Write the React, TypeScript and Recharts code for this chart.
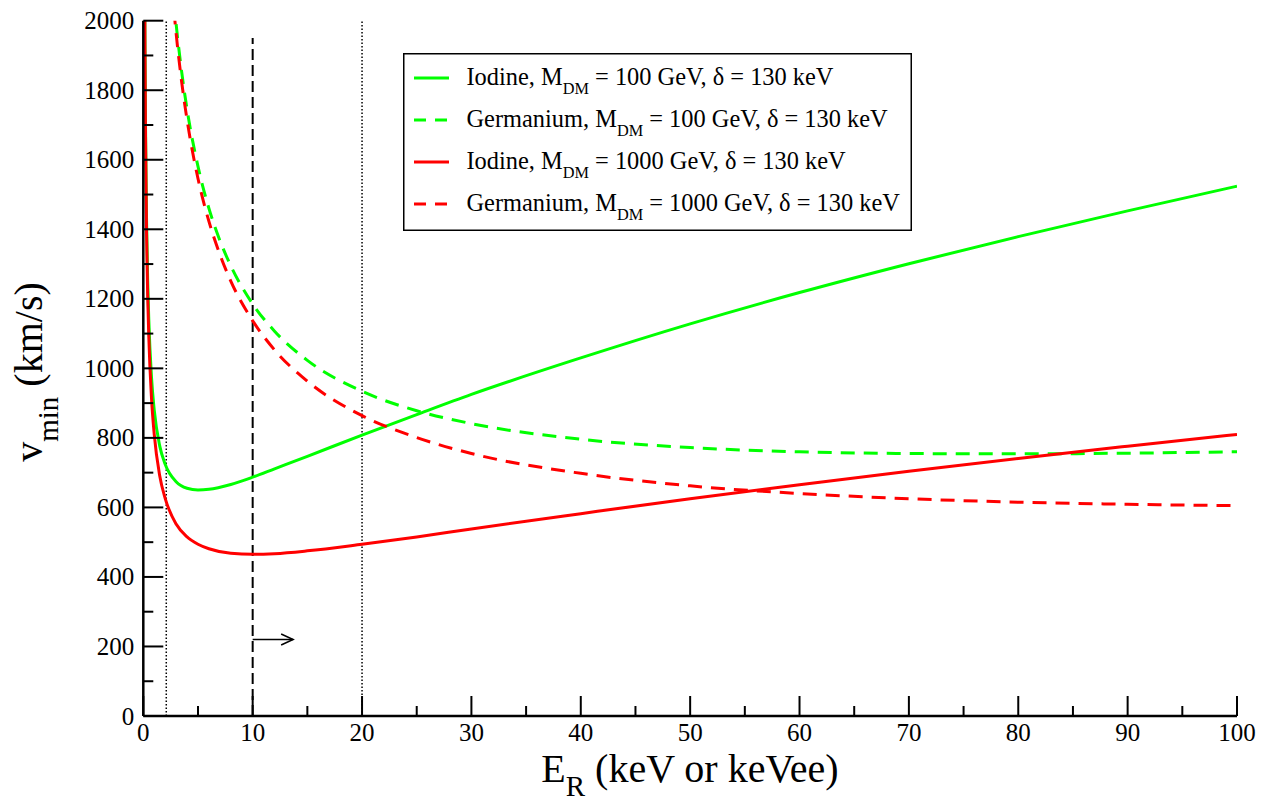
import React from 'react';
import { LineChart, Line, XAxis, YAxis, ReferenceLine } from 'recharts';

const FONT = 'Liberation Serif';

// Energies (keVee for iodine, keV for germanium) and v_min values (km/s)
const iodineEnergies = [0.1, 0.15, 0.2, 0.3, 0.4, 0.5, 0.75, 1, 1.5, 2, 3, 4, 5, 6, 8, 10, 12, 15, 20, 25, 30, 40, 50, 60, 70, 80, 90, 100];
const iodine100 = [2373, 1955, 1710, 1423, 1254, 1142, 974, 880, 777, 724, 674, 655, 650, 652, 666, 687, 711, 747, 808, 867, 925, 1030, 1128, 1218, 1301, 1379, 1453, 1524];
const iodine1000 = [2351, 1929, 1679, 1384, 1210, 1093, 914, 810, 691, 626, 552, 515, 494, 481, 468, 465, 467, 475, 494, 515, 538, 582, 625, 665, 704, 741, 776, 810];

const germaniumEnergies = [2.8, 3, 3.5, 4, 5, 6, 7, 8, 10, 12, 15, 20, 25, 30, 40, 50, 60, 70, 80, 90, 100];
const germanium100 = [2056, 1991, 1855, 1745, 1581, 1460, 1368, 1295, 1185, 1107, 1023, 934, 878, 841, 796, 772, 760, 755, 754, 756, 760];
const germanium1000 = [2030, 1964, 1826, 1715, 1546, 1423, 1328, 1251, 1137, 1053, 963, 864, 801, 755, 698, 662, 640, 625, 615, 609, 605];

const xTicks = [0, 5, 10, 15, 20, 25, 30, 35, 40, 45, 50, 55, 60, 65, 70, 75, 80, 85, 90, 95, 100];
const yTicks = [0, 100, 200, 300, 400, 500, 600, 700, 800, 900, 1000, 1100, 1200, 1300, 1400, 1500, 1600, 1700, 1800, 1900, 2000];

const thresholdLines = [2.1, 20];
const windowStart = 10;
const windowTop = 1950;
const arrowLevel = 220;
const arrowEnd = 13.7;

const toPoints = (es: number[], vs: number[]) => es.map((e, i) => ({ e, v: vs[i] }));

const series = [
  { target: 'Iodine', mass: '100', color: '#00ff00', dashed: false, data: toPoints(iodineEnergies, iodine100) },
  { target: 'Germanium', mass: '100', color: '#00ff00', dashed: true, data: toPoints(germaniumEnergies, germanium100) },
  { target: 'Iodine', mass: '1000', color: '#ff0000', dashed: false, data: toPoints(iodineEnergies, iodine1000) },
  { target: 'Germanium', mass: '1000', color: '#ff0000', dashed: true, data: toPoints(germaniumEnergies, germanium1000) },
];

const CURVE_DASH = '14 9';

const makeXTick = (side: 'bottom' | 'top') => (props: any) => {
  const { x, y, payload } = props;
  const major = payload.value % 10 === 0;
  const len = major ? 20 : 10;
  const dir = side === 'bottom' ? -1 : 1;
  return (
    <g>
      <line x1={x} y1={y} x2={x} y2={y + dir * len} stroke="#000" strokeWidth={2} />
      {side === 'bottom' && major && (
        <text x={x} y={y + 25} textAnchor="middle" fontFamily={FONT} fontSize={25}>
          {payload.value}
        </text>
      )}
    </g>
  );
};

const makeYTick = (side: 'left' | 'right') => (props: any) => {
  const { x, y, payload } = props;
  const major = payload.value % 200 === 0;
  const len = major ? 20 : 10;
  const dir = side === 'left' ? 1 : -1;
  return (
    <g>
      <line x1={x} y1={y} x2={x + dir * len} y2={y} stroke="#000" strokeWidth={2} />
      {side === 'left' && major && (
        <text x={x - 9} y={y + 8.5} textAnchor="end" fontFamily={FONT} fontSize={25}>
          {payload.value}
        </text>
      )}
    </g>
  );
};

const ArrowShape = (props: any) => {
  const { x1, y1, x2, y2 } = props;
  return (
    <g>
      <line x1={x1} y1={y1} x2={x2} y2={y2} stroke="#000" strokeWidth={1.5} />
      <polyline
        points={`${x2 - 12},${y2 - 5.5} ${x2},${y2} ${x2 - 12},${y2 + 5.5}`}
        fill="none"
        stroke="#000"
        strokeWidth={1.5}
      />
    </g>
  );
};

// Legend box drawn inside the chart SVG
const LEGEND_X = 403;
const LEGEND_Y = 53;

export default function App() {
  return (
    <div style={{ position: 'absolute', left: 0, top: 0, background: '#fff' }}>
      <LineChart width={1262} height={801} margin={{ top: 20.7, right: 25, bottom: 45, left: 73.3 }}>
        <XAxis
          xAxisId="b"
          dataKey="e"
          type="number"
          domain={[0, 100]}
          ticks={xTicks}
          interval={0}
          allowDataOverflow
          height={40}
          tickSize={0}
          tickMargin={0}
          tickLine={false}
          axisLine={{ stroke: '#000', strokeWidth: 2.5 }}
          tick={makeXTick('bottom')}
        />
        <XAxis
          xAxisId="t"
          orientation="top"
          dataKey="e"
          type="number"
          domain={[0, 100]}
          ticks={xTicks}
          interval={0}
          allowDataOverflow
          height={0}
          tickSize={0}
          tickMargin={0}
          tickLine={false}
          axisLine={{ stroke: '#000', strokeWidth: 2.5 }}
          tick={makeXTick('top')}
        />
        <YAxis
          yAxisId="l"
          type="number"
          domain={[0, 2000]}
          ticks={yTicks}
          interval={0}
          allowDataOverflow
          width={70}
          tickSize={0}
          tickMargin={0}
          tickLine={false}
          axisLine={{ stroke: '#000', strokeWidth: 2.5 }}
          tick={makeYTick('left')}
        />
        <YAxis
          yAxisId="r"
          orientation="right"
          type="number"
          domain={[0, 2000]}
          ticks={yTicks}
          interval={0}
          allowDataOverflow
          width={0}
          tickSize={0}
          tickMargin={0}
          tickLine={false}
          axisLine={{ stroke: '#000', strokeWidth: 2.5 }}
          tick={makeYTick('right')}
        />
        {thresholdLines.map((x) => (
          <ReferenceLine
            key={x}
            xAxisId="b"
            yAxisId="l"
            x={x}
            stroke="#000"
            strokeWidth={1.5}
            strokeDasharray="1.5 2"
          />
        ))}
        <ReferenceLine
          xAxisId="b"
          yAxisId="l"
          segment={[
            { x: windowStart, y: 0 },
            { x: windowStart, y: windowTop },
          ]}
          stroke="#000"
          strokeWidth={2}
          strokeDasharray="11 5"
        />
        <ReferenceLine
          xAxisId="b"
          yAxisId="l"
          segment={[
            { x: windowStart, y: arrowLevel },
            { x: arrowEnd, y: arrowLevel },
          ]}
          shape={ArrowShape}
        />
        {series.map((s, i) => (
          <Line
            key={i}
            xAxisId="b"
            yAxisId="l"
            data={s.data}
            dataKey="v"
            type="monotone"
            stroke={s.color}
            strokeWidth={3}
            strokeDasharray={s.dashed ? CURVE_DASH : undefined}
            dot={false}
            activeDot={false}
            isAnimationActive={false}
          />
        ))}
        <text x={690} y={782} textAnchor="middle" fontFamily={FONT} fontSize={40}>
          E<tspan fontSize={29} dy={14}>R</tspan>
          <tspan dy={-14}>{' (keV or keVee)'}</tspan>
        </text>
        <text x={42} y={372} transform="rotate(-90 42 372)" textAnchor="middle" fontFamily={FONT} fontSize={40}>
          v<tspan fontSize={29} dy={16}>min</tspan>
          <tspan dy={-16}>{' (km/s)'}</tspan>
        </text>
        <g transform={`translate(${LEGEND_X} ${LEGEND_Y})`}>
          <rect x={0.75} y={0.75} width={507.5} height={176.5} fill="#fff" stroke="#000" strokeWidth={1.5} />
          {series.map((s, i) => {
            const cy = 25 + i * 42;
            return (
              <g key={i}>
                <line
                  x1={11}
                  x2={46}
                  y1={cy}
                  y2={cy}
                  stroke={s.color}
                  strokeWidth={3}
                  strokeDasharray={s.dashed ? '12 9' : undefined}
                />
                <text x={63.5} y={cy + 7} fontFamily={FONT} fontSize={24.4}>
                  {`${s.target}, M`}
                  <tspan fontSize={16.3} dy={9}>DM</tspan>
                  <tspan dy={-9}>{` = ${s.mass} GeV, δ = 130 keV`}</tspan>
                </text>
              </g>
            );
          })}
        </g>
      </LineChart>
    </div>
  );
}
